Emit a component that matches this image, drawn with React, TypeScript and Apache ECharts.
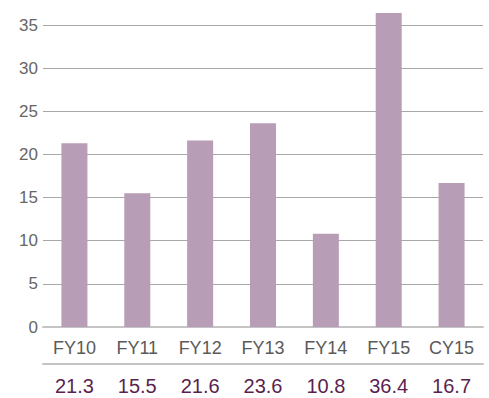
import React, { useEffect, useRef } from "react";
import * as echarts from "echarts";

const categories = ["FY10", "FY11", "FY12", "FY13", "FY14", "FY15", "CY15"];
const values = [21.3, 15.5, 21.6, 23.6, 10.8, 36.4, 16.7];
const valueLabels = values.map((v) => v.toFixed(1));

export default function App() {
  const ref = useRef<HTMLDivElement>(null);
  useEffect(() => {
    if (!ref.current) return;
    const chart = echarts.init(ref.current, null, { renderer: "svg" });
    const font = "'Liberation Sans', Arial, Helvetica, sans-serif";
    chart.setOption({
      animation: false,
      grid: { left: 43, right: 6, top: 25, bottom: 71 },
      xAxis: [
        {
          type: "category",
          data: categories,
          position: "bottom",
          axisLine: { show: true, lineStyle: { color: "#c4c4c4", width: 2 } },
          axisTick: { show: false },
          axisLabel: { color: "#5a5a5a", fontSize: 18, fontFamily: font, margin: 12 },
        },
        {
          type: "category",
          data: valueLabels,
          position: "bottom",
          offset: 37,
          axisLine: { show: true, lineStyle: { color: "#c4c4c4", width: 2 } },
          axisTick: { show: false },
          axisLabel: { color: "#5b1f4f", fontSize: 20, fontFamily: font, margin: 12 },
        },
      ],
      yAxis: {
        type: "value",
        min: 0,
        max: 35,
        interval: 5,
        axisLine: { show: false },
        axisTick: { show: false },
        axisLabel: { color: "#666", fontSize: 17, fontFamily: font, margin: 5 },
        splitLine: { lineStyle: { color: "#a8a8a8", width: 1 } },
      },
      series: [
        {
          type: "bar",
          data: values,
          xAxisIndex: 0,
          barWidth: 26,
          clip: false,
          itemStyle: { color: "#b79db5" },
        },
      ],
    });
    return () => chart.dispose();
  }, []);
  return <div ref={ref} style={{ width: 489, height: 398, position: "absolute", left: 0, top: 0 }} />;
}
